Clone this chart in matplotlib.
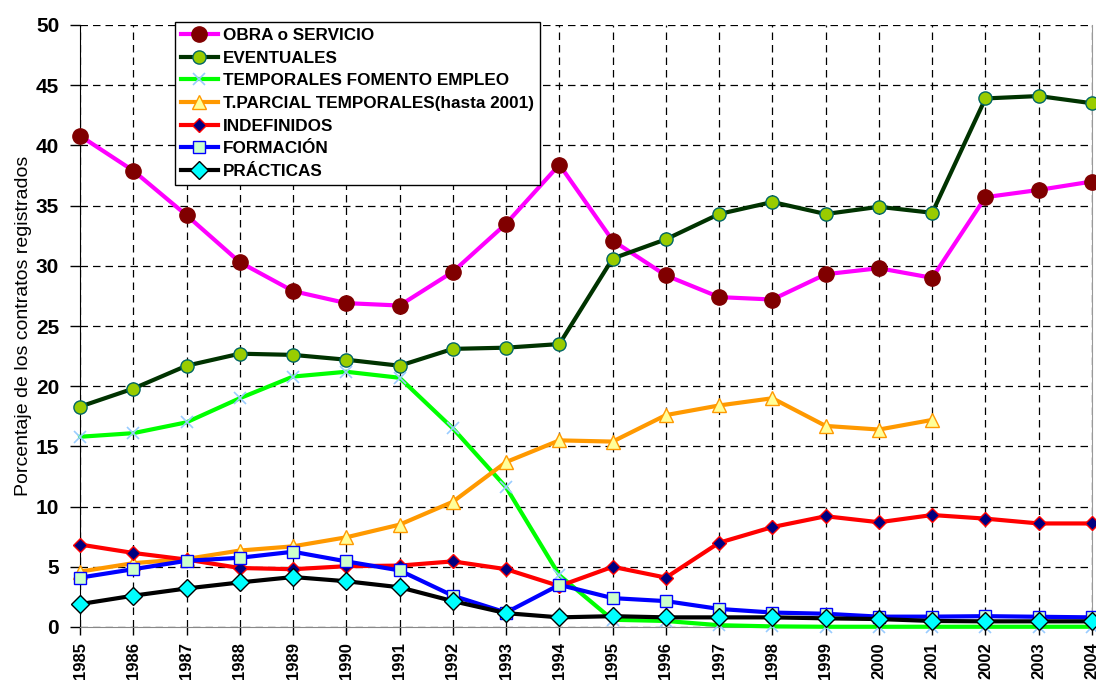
import matplotlib
matplotlib.use("Agg")
import matplotlib.pyplot as plt
import numpy as np

years = list(range(1985, 2005))

obra = [40.8, 37.9, 34.2, 30.3, 27.9, 26.9, 26.7, 29.5, 33.5, 38.4, 32.1, 29.2, 27.4, 27.2, 29.3, 29.8, 29.0, 35.7, 36.3, 37.0]
eventuales = [18.3, 19.8, 21.7, 22.7, 22.6, 22.2, 21.7, 23.1, 23.2, 23.5, 30.6, 32.2, 34.3, 35.3, 34.3, 34.9, 34.4, 43.9, 44.1, 43.5]
fomento = [15.8, 16.1, 17.0, 19.0, 20.8, 21.2, 20.7, 16.5, 11.6, 4.3, 0.6, 0.5, 0.15, 0.05, 0.02, 0.02, 0.02, 0.02, 0.02, 0.02]
parcial = [4.6, 5.3, 5.65, 6.35, 6.7, 7.45, 8.5, 10.4, 13.7, 15.5, 15.4, 17.6, 18.4, 19.0, 16.7, 16.4, 17.2, None, None, None]
indefinidos = [6.85, 6.15, 5.6, 4.9, 4.8, 5.05, 5.1, 5.45, 4.8, 3.4, 5.0, 4.1, 7.0, 8.3, 9.2, 8.7, 9.3, 9.0, 8.6, 8.6]
formacion = [4.1, 4.8, 5.5, 5.75, 6.25, 5.45, 4.7, 2.6, 1.2, 3.5, 2.4, 2.15, 1.5, 1.2, 1.1, 0.86, 0.86, 0.9, 0.85, 0.8]
practicas = [1.9, 2.6, 3.2, 3.7, 4.15, 3.8, 3.3, 2.15, 1.15, 0.8, 0.9, 0.8, 0.8, 0.8, 0.72, 0.66, 0.5, 0.47, 0.47, 0.47]

labels = ["OBRA o SERVICIO", "EVENTUALES", "TEMPORALES FOMENTO EMPLEO",
          "T.PARCIAL TEMPORALES(hasta 2001)", "INDEFINIDOS", "FORMACIÓN", "PRÁCTICAS"]
ylabel = "Porcentaje de los contratos registrados"

plt.rcParams['font.family'] = ['Liberation Sans', 'DejaVu Sans']

fig = plt.figure(figsize=(10.96, 6.84), dpi=100)
ax = fig.add_axes([80/1096, 1-627/684, 1012/1096, 602/684])

styles = [
    dict(color='#FF00FF', marker='o', mfc='#800000', mec='#800000', ms=11),
    dict(color='#003300', marker='o', mfc='#99CC00', mec='#006666', ms=9.5),
    dict(color='#00FF00', marker='x', mfc='#99CCFF', mec='#99CCFF', ms=9, mew=1.2),
    dict(color='#FF9900', marker='^', mfc='#FFFF99', mec='#FF9900', ms=10),
    dict(color='#FF0000', marker='D', mfc='#000080', mec='#FF0000', ms=7),
    dict(color='#0000FF', marker='s', mfc='#CCFFCC', mec='#0000FF', ms=8.5),
    dict(color='#000000', marker='D', mfc='#00FFFF', mec='#000000', ms=9),
]
series = [obra, eventuales, fomento, parcial, indefinidos, formacion, practicas]

for i, (vals, lab, st) in enumerate(zip(series, labels, styles)):
    y = np.array([np.nan if v is None else v for v in vals], dtype=float)
    ax.plot(years, y, lw=3, label=lab, zorder=3 + i, clip_on=False, **st)

ax.set_xlim(1985, 2004)
ax.set_ylim(0, 50)
ax.set_xticks(years)
ax.set_xticklabels([str(y) for y in years], rotation=90, fontsize=12, fontweight='bold')
ax.set_yticks(range(0, 51, 5))
ax.tick_params(axis='y', labelsize=15, length=7, width=1, pad=8)
for t in ax.get_yticklabels():
    t.set_fontweight('bold')
ax.tick_params(axis='x', length=6, width=1, pad=5)
ax.grid(True, which='major', color='black', linestyle=(0, (6, 4)), linewidth=0.9)
ax.set_axisbelow(True)
ax.spines['top'].set_visible(False)
ax.spines['right'].set_color('#999999')
ax.spines['bottom'].set_color('#888888')
ax.spines['left'].set_color('black')

ax.set_ylabel(ylabel, fontsize=14, labelpad=3)

leg = ax.legend(loc='upper left', bbox_to_anchor=(175/1096, 1-22/684), bbox_transform=fig.transFigure,
                prop={'weight': 'bold', 'size': 12.3}, frameon=True, fancybox=False,
                edgecolor='black', framealpha=1, borderpad=0.35, labelspacing=0.45,
                handlelength=2.15, handletextpad=0.3, borderaxespad=0)
leg.get_frame().set_linewidth(1)
leg.set_zorder(20)

fig.savefig('out.png', dpi=100)
